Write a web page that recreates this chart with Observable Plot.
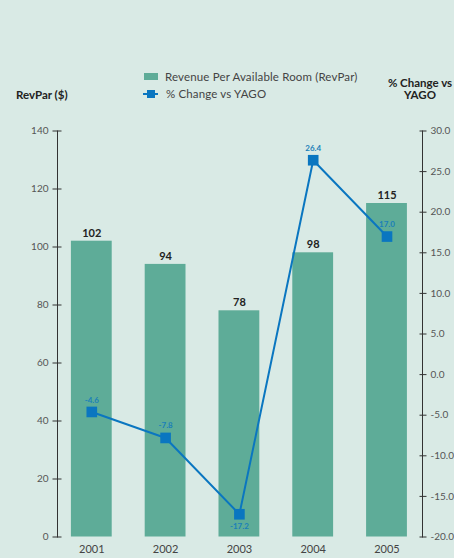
<!DOCTYPE html>
<html>
<head>
<meta charset="utf-8">
<script src="https://cdn.jsdelivr.net/npm/d3@7"></script>
<script src="https://cdn.jsdelivr.net/npm/@observablehq/plot@0.6"></script>
<style>
  html, body { margin: 0; padding: 0; background: #d9eae5; }
  #wrap { position: relative; width: 454px; height: 558px; font-family: Lato, "Noto Sans", sans-serif; color: #333; }
  #wrap svg { position: absolute; left: 0; top: 0; }
  .ttl { position: absolute; font-weight: bold; font-size: 11.5px; color: #222; line-height: 12px; }
  .leg { position: absolute; font-size: 11.5px; color: #444; display: flex; align-items: center; white-space: nowrap; letter-spacing: 0.15px; }
  .sw-bar { width: 14px; height: 7px; background: #5eac98; margin-right: 7px; }
  .sw-line { position: relative; width: 15px; height: 8px; margin-right: 8px; }
  .sw-line::before { content: ""; position: absolute; left: 0; right: 0; top: 3px; height: 2px; background: #0a76c0; }
  .sw-line::after { content: ""; position: absolute; left: 4px; top: 0; width: 8px; height: 8px; background: #0a76c0; }
</style>
</head>
<body>
<div id="wrap">
  <div class="leg" style="left:144px; top:70px;"><div class="sw-bar"></div>Revenue Per Available Room (RevPar)</div>
  <div class="leg" style="left:143px; top:87px;"><div class="sw-line"></div>% Change vs YAGO</div>
  <div class="ttl" style="left:16px; top:89px;">RevPar ($)</div>
  <div class="ttl" style="left:380px; width:80px; top:77px; text-align:center;">% Change vs<br>YAGO</div>
</div>
<script>
const years = ["2001", "2002", "2003", "2004", "2005"];
const revpar = [102, 94, 78, 98, 115];
const pctChange = [-4.6, -7.8, -17.2, 26.4, 17.0];
const revparTicks = [0, 20, 40, 60, 80, 100, 120, 140];
const pctTicks = [-20, -15, -10, -5, 0, 5, 10, 15, 20, 25, 30];

// The % change axis (-20..30) shares the vertical extent of the RevPar axis (0..140).
const toY = p => (p + 20) * 140 / 50;
const fromY = v => v * 50 / 140 - 20;

const bars = years.map((year, i) => ({year, value: revpar[i]}));
const pct = years.map((year, i) => ({year, value: pctChange[i], y: toY(pctChange[i])}));
// the lowest point carries its label underneath the marker
const pctAbove = pct.filter(d => d.value !== d3.min(pctChange));
const pctBelow = pct.filter(d => d.value === d3.min(pctChange));

const barColor = "#5eac98";
const lineColor = "#0a76c0";
const pctLabel = {x: "year", y: "y", text: d => d.value.toFixed(1), fontSize: 8, fontWeight: "bold", fill: "#1a7fb8"};

const chart = Plot.plot({
  width: 454,
  height: 558,
  marginTop: 130.5,
  marginBottom: 21.5,
  marginLeft: 57,
  marginRight: 32,
  style: {background: "transparent", fontFamily: "Lato, 'Noto Sans', sans-serif", fontSize: "10px", color: "#555"},
  x: {type: "band", domain: years, range: [54.4, 423.4], paddingInner: 0.447, paddingOuter: 0.2235, round: false, axis: null},
  y: {domain: [0, 140], axis: null},
  marks: [
    Plot.barY(bars, {x: "year", y: "value", fill: barColor}),
    Plot.text(bars, {x: "year", y: "value", text: d => String(d.value), dy: -8, fontWeight: "bold", fontSize: 11, fill: "#222"}),
    Plot.line(pct, {x: "year", y: "y", stroke: lineColor, strokeWidth: 2}),
    Plot.dot(pct, {x: "year", y: "y", symbol: "square", r: 6, fill: lineColor}),
    Plot.text(pctAbove, {...pctLabel, dy: -12}),
    Plot.text(pctBelow, {...pctLabel, dy: 12}),
    // x labels
    Plot.text(years, {x: d => d, frameAnchor: "bottom", dy: 16, text: d => d, fontSize: 11, fill: "#444"}),
    // left axis: line, ticks crossing the line, labels
    Plot.frame({anchor: "left", stroke: "#333"}),
    Plot.axisY({anchor: "left", ticks: revparTicks, tickSize: 9, dx: 4.5, tickFormat: () => "", stroke: "#333"}),
    Plot.axisY({anchor: "left", ticks: revparTicks, tickSize: 0, tickPadding: 9, fill: "#555"}),
    // right axis
    Plot.frame({anchor: "right", stroke: "#333"}),
    Plot.axisY({anchor: "right", ticks: pctTicks.map(toY), tickSize: 7, dx: -3.5, tickFormat: () => "", stroke: "#333"}),
    Plot.axisY({anchor: "right", ticks: pctTicks.map(toY), tickSize: 0, tickPadding: 8, tickFormat: v => (Math.round(fromY(v) * 10) / 10).toFixed(1), fill: "#555"})
  ]
});
document.getElementById("wrap").appendChild(chart);
</script>
</body>
</html>
